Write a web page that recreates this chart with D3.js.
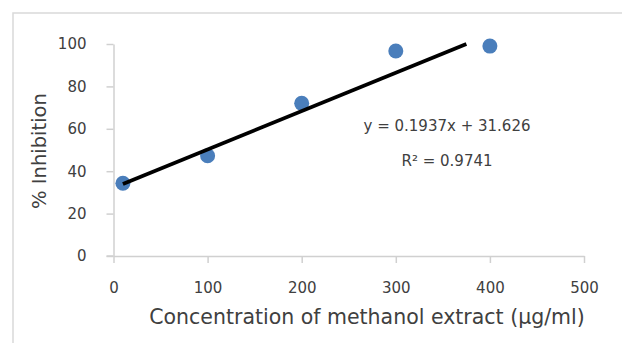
<!DOCTYPE html>
<html>
<head>
<meta charset="utf-8">
<script src="https://cdn.jsdelivr.net/npm/d3@7"></script>
<style>
  body { margin: 0; background: #fff; }
  svg { display: block; font-family: "DejaVu Sans", sans-serif; }
  .axis path, .axis line { stroke: #d0d0d0; stroke-width: 1.5; }
  .axis text { fill: #404040; font-size: 15px; font-family: "DejaVu Sans", sans-serif; }
</style>
</head>
<body>
<div id="chart"></div>
<script>
// ------------------------------------------
//  Data
// ------------------------------------------
const concentration = [10, 100, 200, 300, 400]
const inhibition = [34.3, 47.3, 72, 96.7, 99]
const xTicks = [0, 100, 200, 300, 400, 500]
const yTicks = [0, 20, 40, 60, 80, 100]
// trendline as drawn, clipped at the top of the plot
const trendX = [10, 375]
const trendY = [34, 100]
const equation = 'y = 0.1937x + 31.626'
const rSquared = 'R² = 0.9741'

// ------------------------------------------
//  Chart
// ------------------------------------------
const svg = d3.select('#chart').append('svg')
  .attr('width', 622)
  .attr('height', 343)

svg.append('rect')
  .attr('x', 13).attr('y', 13)
  .attr('width', 640).attr('height', 360)
  .attr('fill', 'none')
  .attr('stroke', '#d9d9d9')
  .attr('stroke-width', 1.5)

const x = d3.scaleLinear().domain([0, 500]).range([113.5, 584])
const y = d3.scaleLinear().domain([0, 100]).range([256, 44])

svg.append('g').attr('class', 'axis')
  .attr('transform', `translate(${x(0)},0)`)
  .call(d3.axisLeft(y).tickValues(yTicks).tickSize(7).tickSizeOuter(0).tickPadding(20))

svg.append('g').attr('class', 'axis')
  .attr('transform', `translate(0,${y(0)})`)
  .call(d3.axisBottom(x).tickValues(xTicks).tickSize(7).tickSizeOuter(0).tickPadding(19))

// extend x axis line under the y tick
svg.append('line')
  .attr('x1', x(0) - 7).attr('x2', x(0))
  .attr('y1', y(0)).attr('y2', y(0))
  .attr('stroke', '#d0d0d0').attr('stroke-width', 1.5)

svg.selectAll('.point')
  .data(concentration)
  .enter().append('circle')
  .attr('class', 'point')
  .attr('cx', d => x(d))
  .attr('cy', (d, i) => y(inhibition[i]))
  .attr('r', 7.5)
  .attr('fill', '#4a7ebb')

svg.append('path')
  .datum(trendX.map((d, i) => [d, trendY[i]]))
  .attr('d', d3.line().x(d => x(d[0])).y(d => y(d[1])))
  .attr('fill', 'none')
  .attr('stroke', '#000')
  .attr('stroke-width', 3.8)

svg.append('text')
  .attr('x', 447).attr('y', 131)
  .attr('text-anchor', 'middle')
  .attr('fill', '#404040')
  .style('font-size', '15px')
  .text(equation)

svg.append('text')
  .attr('x', 447).attr('y', 166)
  .attr('text-anchor', 'middle')
  .attr('fill', '#404040')
  .style('font-size', '15px')
  .text(rSquared)

svg.append('text')
  .attr('x', 367).attr('y', 324)
  .attr('text-anchor', 'middle')
  .attr('fill', '#404040')
  .style('font-size', '20.5px')
  .text('Concentration of methanol extract (µg/ml)')

svg.append('text')
  .attr('transform', 'translate(46,151) rotate(-90)')
  .attr('text-anchor', 'middle')
  .attr('fill', '#404040')
  .style('font-size', '19.5px')
  .text('% Inhibition')
</script>
</body>
</html>
